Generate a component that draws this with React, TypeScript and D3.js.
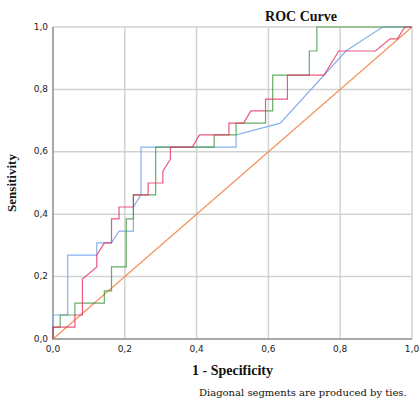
// ROC curve chart with three classifiers and the reference diagonal
import { useRef, useEffect } from "react";
import * as d3 from "d3";

// Tick values for both axes
const ticks = [0, 0.2, 0.4, 0.6, 0.8, 1.0];

// Series A (light blue): 1 - specificity / sensitivity
const blueFpr = [0, 0, 0.041, 0.041, 0.122, 0.122, 0.163, 0.184, 0.224, 0.224, 0.245, 0.245, 0.51, 0.51, 0.633, 0.816, 0.918, 1];
const blueTpr = [0, 0.077, 0.077, 0.269, 0.269, 0.308, 0.308, 0.346, 0.346, 0.423, 0.462, 0.615, 0.615, 0.654, 0.692, 0.923, 1, 1];

// Series B (green)
const greenFpr = [0, 0, 0.02, 0.02, 0.061, 0.061, 0.143, 0.143, 0.163, 0.163, 0.204, 0.204, 0.224, 0.224, 0.286, 0.286, 0.449, 0.449, 0.51, 0.51, 0.592, 0.592, 0.612, 0.612, 0.714, 0.714, 0.735, 0.735, 1];
const greenTpr = [0, 0.038, 0.038, 0.077, 0.077, 0.115, 0.115, 0.154, 0.154, 0.231, 0.231, 0.385, 0.385, 0.462, 0.462, 0.615, 0.615, 0.654, 0.654, 0.692, 0.692, 0.731, 0.731, 0.846, 0.846, 0.923, 0.923, 1, 1];

// Series C (red)
const redFpr = [0, 0, 0.061, 0.061, 0.082, 0.082, 0.122, 0.122, 0.143, 0.163, 0.163, 0.184, 0.184, 0.224, 0.224, 0.265, 0.265, 0.306, 0.306, 0.327, 0.327, 0.388, 0.408, 0.49, 0.49, 0.531, 0.551, 0.592, 0.592, 0.653, 0.653, 0.755, 0.796, 0.898, 0.939, 0.959, 0.98, 1];
const redTpr = [0, 0.038, 0.038, 0.077, 0.077, 0.192, 0.231, 0.269, 0.308, 0.308, 0.385, 0.385, 0.423, 0.423, 0.462, 0.462, 0.5, 0.5, 0.538, 0.577, 0.615, 0.615, 0.654, 0.654, 0.692, 0.692, 0.731, 0.731, 0.769, 0.769, 0.846, 0.846, 0.923, 0.923, 0.962, 0.962, 1, 1];

// Reference line
const diagFpr = [0, 1];
const diagTpr = [0, 1];

export default function App() {
  const ref = useRef<SVGSVGElement>(null);

  useEffect(() => {
    const svg = d3.select(ref.current);
    svg.selectAll("*").remove();

    const width = 420;
    const height = 399;
    const margin = { top: 27, right: 8, bottom: 60, left: 53 };

    const x = d3.scaleLinear().domain([0, 1]).range([margin.left, width - margin.right]);
    const y = d3.scaleLinear().domain([0, 1]).range([height - margin.bottom, margin.top]);

    const fmt = (d: number) => d.toFixed(1).replace(".", ",");

    // Gridlines
    const grid = svg.append("g");
    ticks.forEach((t) => {
      grid.append("line")
        .attr("x1", x(t)).attr("x2", x(t))
        .attr("y1", y(0)).attr("y2", y(1))
        .attr("stroke", "#d2d2d2").attr("stroke-width", 1.5);
      grid.append("line")
        .attr("x1", x(0)).attr("x2", x(1))
        .attr("y1", y(t)).attr("y2", y(t))
        .attr("stroke", "#d2d2d2").attr("stroke-width", 1.5);
    });

    // Axis lines (left and bottom)
    svg.append("line")
      .attr("x1", x(0)).attr("x2", x(0))
      .attr("y1", y(0) + 1).attr("y2", y(1))
      .attr("stroke", "#a8a8a8").attr("stroke-width", 2);
    svg.append("line")
      .attr("x1", x(0) - 1).attr("x2", x(1))
      .attr("y1", y(0)).attr("y2", y(0))
      .attr("stroke", "#a8a8a8").attr("stroke-width", 2);

    // Tick labels
    ticks.forEach((t) => {
      svg.append("text")
        .attr("x", x(0) - 5)
        .attr("y", y(t))
        .attr("text-anchor", "end")
        .attr("dominant-baseline", "middle")
        .style("font-family", "DejaVu Sans")
        .style("font-size", "9px")
        .attr("fill", "#222")
        .text(fmt(t));
      svg.append("text")
        .attr("x", x(t))
        .attr("y", y(0) + 13)
        .attr("text-anchor", "middle")
        .style("font-family", "DejaVu Sans")
        .style("font-size", "9px")
        .attr("fill", "#222")
        .text(fmt(t));
    });

    // Curves
    const line = d3.line<[number, number]>()
      .x((d) => x(d[0]))
      .y((d) => y(d[1]));

    const series = [
      { fpr: diagFpr, tpr: diagTpr, color: "#f5915c", opacity: 1 },
      { fpr: blueFpr, tpr: blueTpr, color: "#7eacea", opacity: 0.95 },
      { fpr: greenFpr, tpr: greenTpr, color: "#3f973f", opacity: 0.8 },
      { fpr: redFpr, tpr: redTpr, color: "#e52f62", opacity: 0.8 },
    ];
    series.forEach((s) => {
      const pts = s.fpr.map((f, i) => [f, s.tpr[i]] as [number, number]);
      svg.append("path")
        .attr("d", line(pts))
        .attr("fill", "none")
        .attr("stroke", s.color)
        .attr("stroke-opacity", s.opacity)
        .attr("stroke-width", 1.2);
    });

    // Title
    svg.append("text")
      .attr("x", 301)
      .attr("y", 21)
      .attr("text-anchor", "middle")
      .style("font-family", "Liberation Serif")
      .style("font-weight", "bold")
      .style("font-size", "14px")
      .attr("fill", "#111")
      .text("ROC Curve");

    // Axis titles
    svg.append("text")
      .attr("x", (x(0) + x(1)) / 2)
      .attr("y", 375)
      .attr("text-anchor", "middle")
      .style("font-family", "Liberation Serif")
      .style("font-weight", "bold")
      .style("font-size", "14px")
      .attr("fill", "#111")
      .text("1 - Specificity");

    svg.append("text")
      .attr("transform", `translate(16,${(y(0) + y(1)) / 2}) rotate(-90)`)
      .attr("text-anchor", "middle")
      .style("font-family", "Liberation Serif")
      .style("font-weight", "bold")
      .style("font-size", "13px")
      .attr("fill", "#111")
      .text("Sensitivity");

    // Footnote
    svg.append("text")
      .attr("x", 199)
      .attr("y", 396)
      .style("font-family", "DejaVu Serif")
      .style("font-size", "10px")
      .attr("fill", "#111")
      .text("Diagonal segments are produced by ties.");
  }, []);

  return (
    <svg
      ref={ref}
      width={420}
      height={399}
      style={{ position: "absolute", left: 0, top: 0, background: "#fff" }}
    ></svg>
  );
}
